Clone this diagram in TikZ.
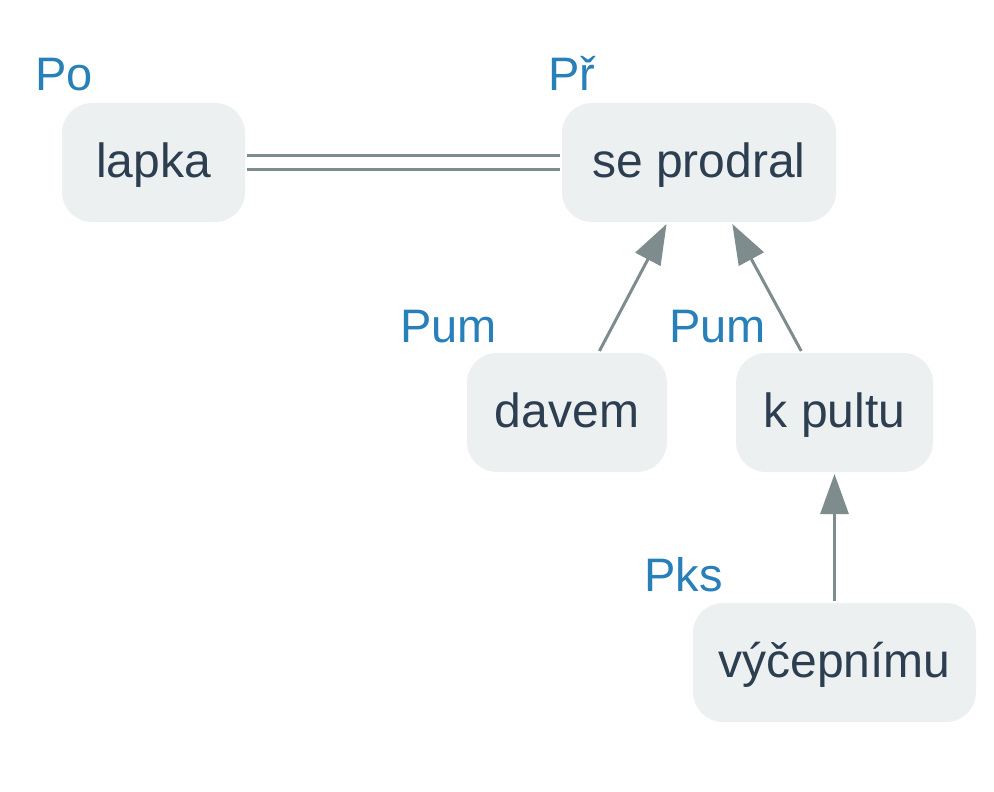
\documentclass[tikz,border=0pt]{standalone}
\usepackage{fontspec}
\setmainfont{Liberation Sans}
\usetikzlibrary{arrows.meta}
\definecolor{boxfill}{HTML}{ECF0F1}
\definecolor{boxtext}{HTML}{2C3E50}
\definecolor{lbl}{HTML}{2980B9}
\definecolor{edge}{HTML}{7F8C8D}
\begin{document}
\begin{tikzpicture}[x=1pt,y=-1pt,
  word/.style={fill=boxfill, text=boxtext, rounded corners=30pt, inner sep=0pt,
    minimum height=119pt, font=\fontsize{48}{52}\selectfont,
    text height=36pt, text depth=7pt, outer sep=2pt},
  rel/.style={text=lbl, font=\fontsize{47}{51}\selectfont, anchor=base west, inner sep=0pt},
  arr/.style={draw=edge, line width=3pt, -{Triangle[length=40pt,width=28pt]}}
]
\useasboundingbox (0,0) rectangle (994,792);
\node[word, minimum width=183pt] (lapka) at (153.5,162.5) {lapka};
\node[word, minimum width=274pt] (seprodral) at (699,162.5) {se prodral};
\node[word, minimum width=200pt] (davem) at (567,412.5) {davem};
\node[word, minimum width=197pt] (kpultu) at (834.5,412.5) {k pultu};
\node[word, minimum width=283pt] (vycepnimu) at (834.5,662.5) {výčepnímu};

\node[rel] (lPo) at (35,91) {Po};
\node[rel] (lPr) at (548,91) {Př};
\node[rel] (lPum1) at (400,342) {Pum};
\node[rel] (lPum2) at (669,342) {Pum};
\node[rel] (lPks) at (644,591) {Pks};

\draw[edge, line width=3pt, double=white, double distance=11pt] (lapka) -- (seprodral);
\draw[arr] (davem) -- (seprodral);
\draw[arr] (kpultu) -- (seprodral);
\draw[arr] (vycepnimu) -- (kpultu);
\end{tikzpicture}
\end{document}
